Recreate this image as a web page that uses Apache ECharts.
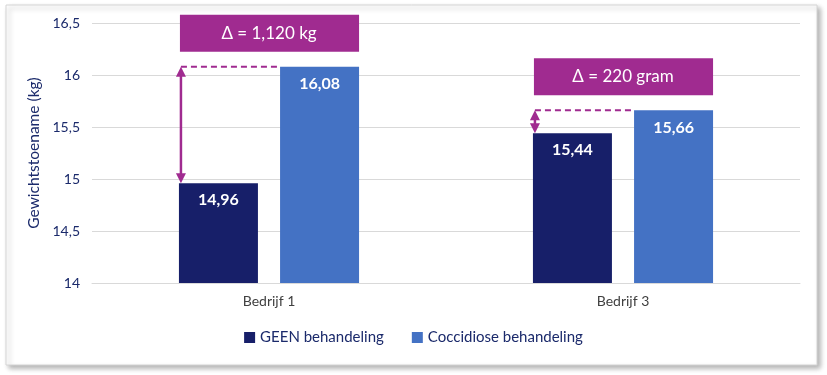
<!DOCTYPE html>
<html><head><meta charset="utf-8">
<script src="https://cdn.jsdelivr.net/npm/echarts@6/dist/echarts.min.js"></script>
<style>html,body{margin:0;padding:0;background:#fff}#c{width:827px;height:375px}</style>
</head><body><div id="c"></div>
<script>
const categories = ['Bedrijf 1', 'Bedrijf 3'];
const geen = [14.96, 15.44];
const cocci = [16.08, 15.66];
const deltaLabels = ['Δ = 1,120 kg', 'Δ = 220 gram'];
const yTicks = {min: 14, max: 16.5, interval: 0.5};

const FONT = 'Lato, "Noto Sans", sans-serif';
const NAVY = '#1B2A6B';
const PURPLE = '#A02B90';
const fmt = v => String(v).replace('.', ',');

const chart = echarts.init(document.getElementById('c'), null, {renderer: 'canvas'});
const labelCfg = {show: true, position: 'insideTop', distance: 9, color: '#fff', fontWeight: 'bold', fontSize: 16, fontFamily: FONT, formatter: p => fmt(p.value.toFixed(2))};
chart.setOption({
  animation: false,
  textStyle: {fontFamily: FONT},
  grid: {left: 92, right: 27, top: 23, bottom: 92},
  legend: {bottom: 25, left: 'center', itemWidth: 11, itemHeight: 11, itemGap: 28, icon: 'rect',
    textStyle: {color: NAVY, fontSize: 15, fontFamily: FONT}},
  xAxis: {type: 'category', data: categories, axisTick: {show: false},
    axisLine: {lineStyle: {color: '#d9d9d9'}},
    axisLabel: {color: '#404040', fontSize: 14, margin: 11, fontFamily: FONT}},
  yAxis: {type: 'value', min: yTicks.min, max: yTicks.max, interval: yTicks.interval,
    name: 'Gewichtstoename (kg)', nameLocation: 'middle', nameGap: 45,
    nameTextStyle: {color: NAVY, fontSize: 15.5, fontFamily: FONT},
    splitLine: {lineStyle: {color: '#d9d9d9'}},
    axisLabel: {color: NAVY, fontSize: 14, margin: 12, formatter: v => fmt(v), fontFamily: FONT}},
  series: [
    {name: 'GEEN behandeling', type: 'bar', data: geen, barWidth: 79, barGap: '28%',
      itemStyle: {color: '#171F69'}, label: labelCfg},
    {name: 'Coccidiose behandeling', type: 'bar', data: cocci, barWidth: 79,
      itemStyle: {color: '#4472C4'}, label: labelCfg}
  ]
});

function drawAnnotations() {
  const d0 = chart.getModel().getSeriesByIndex(0).getData();
  const d1 = chart.getModel().getSeriesByIndex(1).getData();
  const els = [];
  els.push({type: 'rect', shape: {x: 6, y: 5, width: 811, height: 360}, z: -10,
    style: {fill: '#fff', stroke: '#d4d4d4', lineWidth: 1, shadowColor: 'rgba(0,0,0,0.3)', shadowBlur: 5, shadowOffsetX: 3, shadowOffsetY: 3}});
  categories.forEach((c, i) => {
    const a = d0.getItemLayout(i), b = d1.getItemLayout(i);
    const topLow = a.y + (a.height < 0 ? a.height : 0);
    const topHigh = b.y + (b.height < 0 ? b.height : 0);
    const x0 = a.x, x1 = b.x + b.width;
    const ax = x0 + 2;
    els.push({type: 'rect', shape: {x: x0 + 1, y: topHigh - 52, width: x1 - x0 - 1, height: 37}, style: {fill: PURPLE}});
    els.push({type: 'text', x: (x0 + x1) / 2, y: topHigh - 33.5,
      style: {text: deltaLabels[i], fill: '#fff', fontSize: 17, fontFamily: FONT, align: 'center', verticalAlign: 'middle'}});
    els.push({type: 'line', shape: {x1: ax, y1: topHigh, x2: b.x, y2: topHigh},
      style: {stroke: PURPLE, lineWidth: 2, lineDash: [6, 4]}});
    const h = 9, w = 5;
    els.push({type: 'line', shape: {x1: ax, y1: topHigh + h, x2: ax, y2: topLow - h}, style: {stroke: PURPLE, lineWidth: 2.5}});
    els.push({type: 'polygon', shape: {points: [[ax, topHigh], [ax - w, topHigh + h + 1], [ax + w, topHigh + h + 1]]}, style: {fill: PURPLE}});
    els.push({type: 'polygon', shape: {points: [[ax, topLow], [ax - w, topLow - h - 1], [ax + w, topLow - h - 1]]}, style: {fill: PURPLE}});
  });
  chart.setOption({graphic: {elements: els}});
}
drawAnnotations();
</script></body></html>
